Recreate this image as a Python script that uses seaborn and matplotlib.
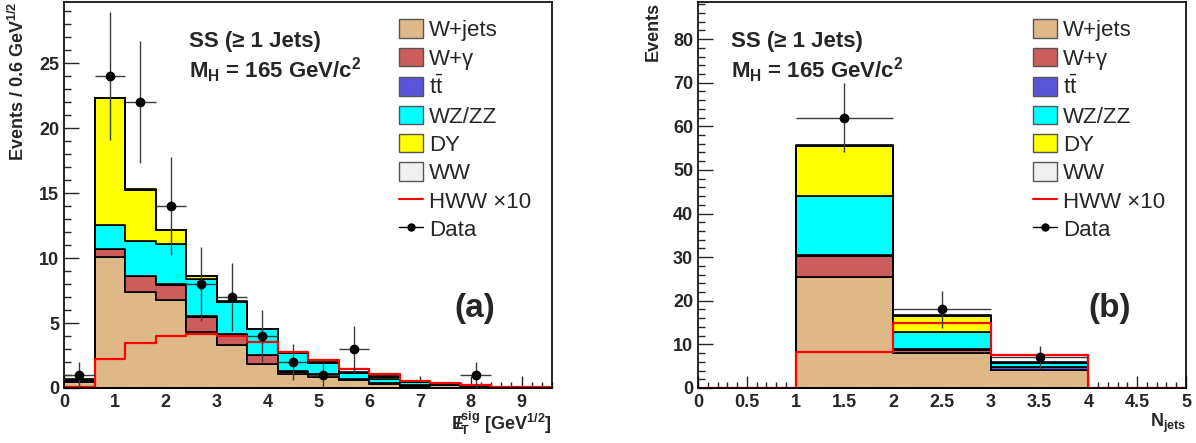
import numpy as np
import pandas as pd
import matplotlib
matplotlib.use("Agg")
import matplotlib.pyplot as plt
import seaborn as sns
from matplotlib.patches import Patch
from matplotlib.lines import Line2D
from matplotlib.ticker import MultipleLocator, FormatStrFormatter

# componentes (de baixo para cima na pilha)
componentes = ["W+jets", "W+γ", "ttbar", "WZ/ZZ", "DY", "WW"]
cores = ["#deb887", "#cd5c5c", "#5a54d9", "#00ffff", "#ffff00", "#f0f0f0"]
rotulos = ["W+jets", "W+γ", r"$\mathrm{t\bar{t}}$", "WZ/ZZ", "DY", "WW"]

# painel (a): MET significance, bins de 0.6
met_edges = [round(0.6 * i, 1) for i in range(17)]
wjets_a = [0.50, 10.05, 7.40, 6.80, 4.30, 3.30, 1.82, 1.08, 0.87, 0.60, 0.33, 0.18, 0.20, 0.10, 0.04, 0.02]
wgam_a = [0.00, 0.61, 1.18, 1.10, 1.17, 0.80, 0.72, 0.18, 0.18, 0.05, 0.05, 0.04, 0.03, 0.02, 0.01, 0.00]
ttbar_a = [0.05, 0.02, 0.02, 0.10, 0.05, 0.02, 0.02, 0.02, 0.02, 0.01, 0.03, 0.01, 0.03, 0.01, 0.00, 0.00]
wzzz_a = [0.05, 1.86, 2.70, 3.05, 2.88, 2.51, 1.99, 1.39, 0.88, 0.52, 0.26, 0.20, 0.08, 0.05, 0.02, 0.01]
dy_a = [0.00, 9.76, 3.96, 1.10, 0.20, 0.02, 0.00, 0.00, 0.00, 0.00, 0.17, 0.00, 0.00, 0.00, 0.00, 0.00]
ww_a = [0.10, 0.02, 0.02, 0.02, 0.02, 0.02, 0.02, 0.02, 0.02, 0.02, 0.05, 0.04, 0.02, 0.01, 0.00, 0.00]
hww_a = [0.10, 2.20, 3.44, 3.98, 4.19, 4.03, 3.52, 2.80, 2.15, 1.44, 1.05, 0.56, 0.41, 0.23, 0.10, 0.05]
data_a = [1, 24, 22, 14, 8, 7, 4, 2, 1, 3, 0, 0, 0, 1, 0, 0]

# painel (b): N jets
nj_edges = [0, 1, 2, 3, 4, 5]
wjets_b = [0, 25.5, 8.10, 4.13, 0]
wgam_b = [0, 4.70, 0.50, 0.05, 0]
ttbar_b = [0, 0.30, 0.30, 0.57, 0]
wzzz_b = [0, 13.55, 3.87, 0.91, 0]
dy_b = [0, 11.45, 3.83, 0.00, 0]
ww_b = [0, 0.10, 0.05, 0.24, 0]
hww_b = [0, 8.20, 14.80, 7.57, 0]
data_b = [0, 62, 18, 7, 0]

sns.set_style("ticks")
plt.rcParams['font.family'] = ['Liberation Sans', 'DejaVu Sans']
plt.rcParams['mathtext.fontset'] = 'custom'
plt.rcParams['mathtext.rm'] = 'Liberation Sans'
plt.rcParams['mathtext.it'] = 'Liberation Sans:italic'
plt.rcParams['mathtext.bf'] = 'Liberation Sans:bold'
plt.rcParams['mathtext.default'] = 'bf'


def painel(ax, edges, series, hww, data, ymax, xmaj, xmin, ymaj, ymin, xfmt):
    e = np.array(edges, dtype=float)
    centros = (e[:-1] + e[1:]) / 2
    larg = np.diff(e)
    df = pd.DataFrame({
        "x": np.tile(centros, len(componentes)),
        "w": np.concatenate(series),
        "comp": np.repeat(componentes, len(centros)),
    })
    sns.histplot(data=df, x="x", weights="w", hue="comp", hue_order=componentes[::-1],
                 palette=dict(zip(componentes, cores)), bins=list(edges), multiple="stack",
                 element="step", edgecolor="black", linewidth=1.2, alpha=1,
                 legend=False, ax=ax)
    sns.histplot(x=centros, weights=hww, bins=list(edges), element="step", fill=False,
                 color="red", linewidth=1.6, ax=ax)
    d = np.array(data, dtype=float)
    m = d > 0
    ax.errorbar(centros[m], d[m], yerr=np.sqrt(d[m]), xerr=larg[m] / 2, fmt="o",
                color="black", ecolor="#3c3c3c", elinewidth=1.0, markersize=6,
                capsize=0, zorder=10)
    ax.set_xlim(e[0], e[-1])
    ax.set_ylim(0, ymax)
    ax.xaxis.set_major_locator(MultipleLocator(xmaj))
    ax.xaxis.set_minor_locator(MultipleLocator(xmin))
    ax.yaxis.set_major_locator(MultipleLocator(ymaj))
    ax.yaxis.set_minor_locator(MultipleLocator(ymin))
    ax.xaxis.set_major_formatter(FormatStrFormatter(xfmt))
    ax.tick_params(axis="x", which="major", direction="in", length=8.3, width=1, pad=4.5,
                   top=False, labelsize=13)
    ax.tick_params(axis="x", which="minor", direction="in", length=4.2, width=1, top=False)
    ax.tick_params(axis="y", which="major", direction="in", length=10.5, width=1, pad=3.5,
                   right=False, labelsize=13)
    ax.tick_params(axis="y", which="minor", direction="in", length=5.2, width=1, right=False)
    for lab in ax.get_xticklabels() + ax.get_yticklabels():
        lab.set_fontweight("bold")
    for s in ax.spines.values():
        s.set_linewidth(1.2)
        s.set_color("black")
        s.set_visible(True)

    handles = [Patch(facecolor=c, edgecolor="#555555", linewidth=1) for c in cores]
    handles += [Line2D([], [], color="red", lw=1.5),
                Line2D([], [], color="black", marker="o", markersize=5, lw=1)]
    labels = rotulos + ["HWW ×10", "Data"]
    ax.legend(handles, labels, loc="upper left", bbox_to_anchor=(0.686, 0.955),
              frameon=False, fontsize=16, handlelength=1.1, handleheight=0.9,
              labelspacing=0.29, handletextpad=0.25, borderpad=0, borderaxespad=0)


fig = plt.figure(figsize=(11.96, 4.43), dpi=100)
ax1 = fig.add_axes([64 / 1196, 55 / 443, 488 / 1196, 386 / 443])
ax2 = fig.add_axes([698 / 1196, 55 / 443, 488 / 1196, 386 / 443])

painel(ax1, met_edges, [wjets_a, wgam_a, ttbar_a, wzzz_a, dy_a, ww_a], hww_a, data_a,
       29.7, 1, 0.2, 5, 1, "%g")
painel(ax2, nj_edges, [wjets_b, wgam_b, ttbar_b, wzzz_b, dy_b, ww_b], hww_b, data_b,
       88.5, 0.5, 0.1, 10, 2, "%g")

ax1.set_ylabel("Events / 0.6 GeV$^{1/2}$", loc="top", fontsize=13, fontweight="bold")
ax1.yaxis.set_label_coords(-0.074, 1.0)
ax1.set_xlabel(r"$E\!\!\!/_{T}^{sig}$ [GeV$^{1/2}$]", loc="right", fontsize=13, fontweight="bold")
ax1.xaxis.set_label_coords(1.0, -0.057)

ax2.set_ylabel("Events", loc="top", fontsize=13, fontweight="bold")
ax2.yaxis.set_label_coords(-0.074, 1.0)
ax2.set_xlabel("N$_{jets}$", loc="right", fontsize=13, fontweight="bold")
ax2.xaxis.set_label_coords(1.0, -0.062)

for ax, x0, letra in [(ax1, 0.256, "(a)"), (ax2, 0.068, "(b)")]:
    ax.text(x0, 0.884, "SS (≥ 1 Jets)", transform=ax.transAxes, fontsize=16,
            fontweight="bold", va="baseline", ha="left")
    ax.text(x0, 0.803, "M$_{H}$ = 165 GeV/c$^{2}$", transform=ax.transAxes, fontsize=16,
            fontweight="bold", va="baseline", ha="left")
    ax.text(0.80, 0.184, letra, transform=ax.transAxes, fontsize=24,
            fontweight="bold", va="baseline", ha="left")

fig.savefig("out.png", dpi=100)
